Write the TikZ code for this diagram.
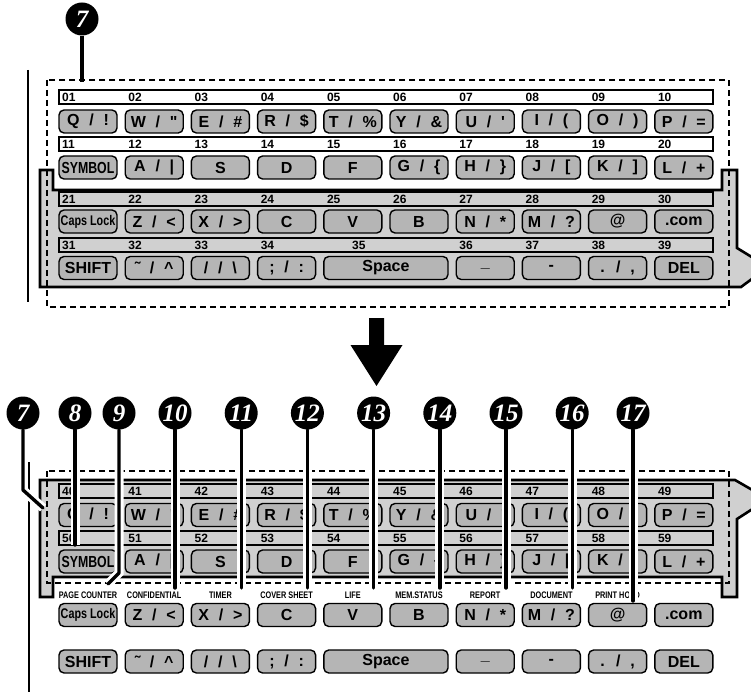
\documentclass[tikz,border=0pt]{standalone}
\usepackage{fontspec}
\setmainfont{Liberation Sans}
\newfontfamily\keyfont[WordSpace=2.2]{Liberation Sans}
\newfontfamily\narrowfont[FakeStretch=0.77]{Liberation Sans}
\newfontfamily\calloutfont{Liberation Serif}
\usetikzlibrary{positioning}
\pgfdeclarelayer{front}
\pgfsetlayers{main,front}
\definecolor{panelgray}{HTML}{D0D0D0}
\definecolor{keygray}{HTML}{B5B5B5}

% key rows of the keypad
\newcommand\rowone{{Q / !},{W / "},{E / \#},{R / \$},{T / \%},{Y / \&},{U / \textquotesingle},{I / (},{O / )},{P / =}}
\newcommand\rowtwo{{\narrowfont SYMBOL},{A / \textbar},S,D,F,{G / \{},{H / \}},{J / [},{K / ]},{L / +}}
\newcommand\rowthree{{\narrowfont\fontsize{14}{14}\selectfont Caps Lock},{Z / <},{X / >},C,V,B,{N / *},{M / ?},@,.com}
\newcommand\rowfour{0/SHIFT,1/{˜ / \textasciicircum},2/{/ / \textbackslash},3/{; / :},6/\_,7/-,8/{. / ,},9/DEL}

\begin{document}
\begin{tikzpicture}[x=1pt, y=1pt,
  keycap/.style={draw, line width=1.4pt, rounded corners=5pt, fill=keygray, minimum width=58pt, minimum height=23pt, inner sep=0pt, font=\keyfont\bfseries\fontsize{16}{16}\selectfont},
  strip/.style={draw, line width=1.3pt},
  numlab/.style={anchor=west, inner sep=0pt, font=\bfseries\fontsize{12}{12}\selectfont},
  funclab/.style={inner sep=0pt, font=\narrowfont\bfseries\fontsize{9.5}{9.5}\selectfont},
  panel/.style={draw, line width=2.6pt, fill=panelgray},
  dashframe/.style={draw, line width=2.5pt, dash pattern=on 6pt off 4pt},
  callout/.style={circle, fill=black, minimum size=33pt, inner sep=0pt, text=white, font=\calloutfont\bfseries\itshape\fontsize{25}{25}\selectfont},
  leader/.style={draw, line width=3.4pt, line cap=round, line join=round, preaction={draw=white, line width=9pt}}
]
  \useasboundingbox (0,0) rectangle (751,-692);
  \clip (0,0) rectangle (751,-692);

  % numbered callouts
  \begin{pgfonlayer}{front}
    \node[callout] (t7) at (82,-19) {7};
    \node[callout] (c7) at (23,-413) {7};
    \node[callout] (c8) at (75,-413) {8};
    \node[callout] (c9) at (119,-413) {9};
    \foreach \n [count=\i from 0] in {10,...,16}
      \node[callout] (c\n) at ({175+66.2*\i},-413) {\n};
    \node[callout] (c17) at (633,-413) {17};
  \end{pgfonlayer}

  % upper keypad
  \draw[line width=2.8pt] (28,-70) -- (28,-302);
  \draw[panel] (40,-170) -- (53,-170) -- (53,-190) -- (722,-190) -- (722,-170) -- (737,-170) -- (737,-248) -- (768,-267) -- (741,-287) -- (40,-287) -- cycle;
  \foreach \y in {90,137} \draw[strip, fill=white] (59,-\y) rectangle (713,-\y-14);
  \foreach \y in {192,238} \draw[strip] (59,-\y) rectangle (713,-\y-14);

  \foreach \t [count=\i from 0] in \rowone
    \node[keycap] (ta\i) at ({88+66.2*\i},-121.5) {\t};
  \foreach \t [count=\i from 0] in \rowtwo
    \node[keycap] (tb\i) at ({88+66.2*\i},-167.5) {\t};
  \foreach \t [count=\i from 0] in \rowthree
    \node[keycap] (tc\i) at ({88+66.2*\i},-221.5) {\t};
  \foreach \c/\t in \rowfour {
    \pgfmathtruncatemacro\numd{\c+31-(\c>5)}
    \node[keycap] (td\c) at ({88+66.2*\c},-268) {\t};
    \node[numlab] (n\numd) at ({62+66.2*\c},-245) {\numd};
  }
  \node[keycap, minimum width=124.2pt] (tspace) at (385.9,-268) {Space};
  \node[numlab] (n35) at (352,-245) {35};

  \foreach \i in {0,...,9} {
    \pgfmathtruncatemacro\numa{\i+1}
    \pgfmathtruncatemacro\numb{\i+11}
    \pgfmathtruncatemacro\numc{\i+21}
    \node[numlab] (n\numa) at ({62+66.2*\i},-97) {\ifnum\numa<10 0\fi\numa};
    \node[numlab] (n\numb) at ({62+66.2*\i},-144) {\numb};
    \node[numlab] (n\numc) at ({62+66.2*\i},-199) {\numc};
  }

  \draw[dashframe] (47,-80) rectangle (729,-307);
  \coordinate (e0) at (82,-82);
  \draw[line width=3.4pt] (t7) -- (e0);

  % arrow between the two views
  \fill (369,-318) -- (384,-318) -- (384,-345) -- (402.5,-345) -- (376.5,-386) -- (350.5,-345) -- (369,-345) -- cycle;

  % lower keypad
  \draw[line width=2.8pt] (29,-462) -- (29,-692);
  \draw[panel] (40,-480) -- (735,-480) -- (768,-499) -- (737,-519) -- (737,-597) -- (722,-597) -- (722,-577) -- (53,-577) -- (53,-597) -- (40,-597) -- cycle;
  \foreach \y in {484,531} \draw[strip] (59,-\y) rectangle (713,-\y-14);

  \foreach \t [count=\i from 0] in \rowone
    \node[keycap] (ba\i) at ({88+66.2*\i},-515) {\t};
  \foreach \t [count=\i from 0] in \rowtwo
    \node[keycap] (bb\i) at ({88+66.2*\i},-561.5) {\t};
  \foreach \t [count=\i from 0] in \rowthree
    \node[keycap] (bc\i) at ({88+66.2*\i},-615) {\t};
  \foreach \c/\t in \rowfour
    \node[keycap] (bd\c) at ({88+66.2*\c},-661.5) {\t};
  \node[keycap, minimum width=124.2pt] (bspace) at (385.9,-661.5) {Space};

  \foreach \i in {0,...,9} {
    \pgfmathtruncatemacro\numa{\i+40}
    \pgfmathtruncatemacro\numb{\i+50}
    \node[numlab] (n\numa) at ({62+66.2*\i},-491) {\numa};
    \node[numlab] (n\numb) at ({62+66.2*\i},-538) {\numb};
  }
  \foreach \t [count=\i from 0] in {PAGE COUNTER,CONFIDENTIAL,TIMER,COVER SHEET,LIFE,MEM.STATUS,REPORT,DOCUMENT,PRINT HOLD}
    \node[funclab, above=4pt of bc\i] (f\i) {\t};

  \draw[dashframe] (47,-471) rectangle (729,-583);

  % leader lines
  \coordinate (e7a) at (23,-490);
  \coordinate (e7) at (43,-508);
  \draw[leader] (c7) -- (e7a) -- (e7);
  \coordinate (e8) at (75,-545);
  \draw[leader] (c8) -- (e8);
  \coordinate (e9a) at (119,-573);
  \coordinate (e9) at (108,-584);
  \draw[leader] (c9) -- (e9a) -- (e9);
  \foreach \n [count=\i from 0] in {10,...,16} {
    \coordinate (e\n) at ({175+66.2*\i},-588);
    \draw[leader] (c\n) -- (e\n);
  }
  \coordinate (e17) at (633,-601);
  \draw[leader] (c17) -- (e17);
\end{tikzpicture}
\end{document}
